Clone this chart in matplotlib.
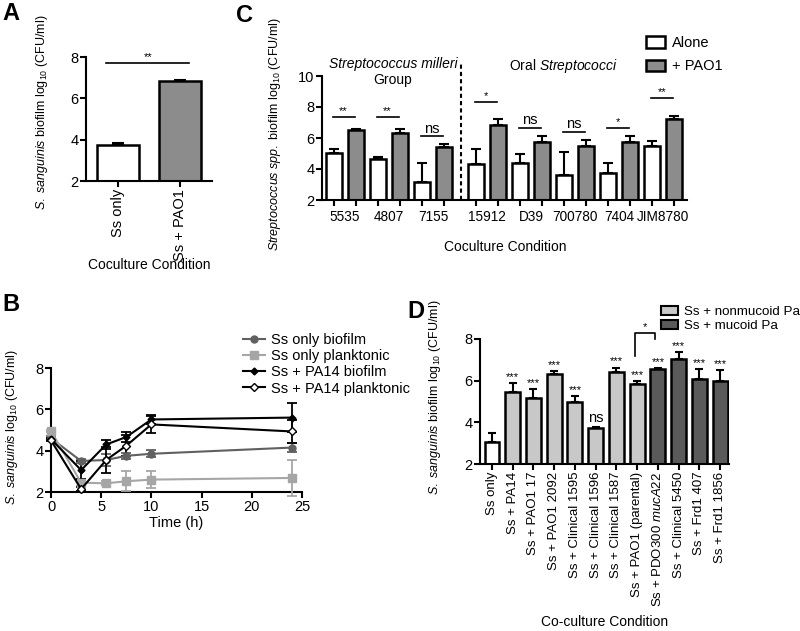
import matplotlib
matplotlib.use("Agg")
import matplotlib.pyplot as plt
import numpy as np
from matplotlib.patches import Patch
from matplotlib.lines import Line2D

plt.rcParams['font.family'] = ['Liberation Sans', 'DejaVu Sans']
plt.rcParams['mathtext.fontset'] = 'custom'
plt.rcParams['mathtext.rm'] = 'Liberation Sans'
plt.rcParams['mathtext.it'] = 'Liberation Sans:italic'
plt.rcParams['mathtext.bf'] = 'Liberation Sans:bold'

# ---------------- data ----------------
A_labels = ['Ss only', 'Ss + PAO1']
A_means = [3.72, 6.82]
A_err = [0.13, 0.08]

B_time = [0, 3, 5.5, 7.5, 10, 24]
B_ss_bio = [4.6, 3.5, 3.55, 3.75, 3.85, 4.15]
B_ss_bio_err = [0.1, 0.1, 0.3, 0.15, 0.17, 0.22]
B_ss_plank = [4.95, 2.45, 2.42, 2.52, 2.6, 2.68]
B_ss_plank_err = [0.05, 0.15, 0.1, 0.48, 0.42, 0.85]
B_pa_bio = [4.56, 3.06, 4.3, 4.66, 5.51, 5.6]
B_pa_bio_err = [0.05, 0.45, 0.2, 0.22, 0.2, 0.72]
B_pa_plank = [4.5, 2.14, 3.55, 4.24, 5.27, 4.93]
B_pa_plank_err = [0.05, 0.1, 0.65, 0.5, 0.4, 0.55]
B_names = ['Ss only biofilm', 'Ss only planktonic', 'Ss + PA14 biofilm', 'Ss + PA14 planktonic']

C_strains = ['5535', '4807', '7155', '15912', 'D39', '700780', '7404', 'JIM8780']
C_alone = [5.03, 4.63, 3.17, 4.32, 4.39, 3.6, 3.74, 5.48]
C_alone_err = [0.27, 0.12, 1.23, 0.98, 0.56, 1.5, 0.66, 0.32]
C_pao1 = [6.52, 6.3, 5.44, 6.84, 5.77, 5.5, 5.73, 7.23]
C_pao1_err = [0.04, 0.25, 0.16, 0.41, 0.33, 0.37, 0.37, 0.22]
C_sig = ['**', '**', 'ns', '*', 'ns', 'ns', '*', '**']
C_sig_y = [7.35, 7.35, 6.1, 8.3, 6.65, 6.4, 6.65, 8.6]

D_labels = ['Ss only', 'Ss + PA14', 'Ss + PAO1 17', 'Ss + PAO1 2092',
            'Ss + Clinical 1595', 'Ss + Clinical 1596', 'Ss + Clinical 1587',
            'Ss + PAO1 (parental)', r'Ss + PDO300 $\it{mucA22}$',
            'Ss + Clinical 5450', 'Ss + Frd1 407', 'Ss + Frd1 1856']
D_means = [3.06, 5.46, 5.17, 6.33, 4.98, 3.73, 6.41, 5.84, 6.57, 7.05, 6.09, 5.97]
D_err = [0.44, 0.42, 0.43, 0.14, 0.28, 0.05, 0.22, 0.16, 0.05, 0.32, 0.46, 0.53]
D_group = ['alone', 'non', 'non', 'non', 'non', 'non', 'non', 'non',
           'muc', 'muc', 'muc', 'muc']
D_sig = ['', '***', '***', '***', '***', 'ns', '***', '***', '***', '***', '***', '***']

# ---------------- layout helpers ----------------
W, H = 800, 631
fig = plt.figure(figsize=(8, 6.31), dpi=100)


def rect(l, r, t, b):
    return [l / W, 1 - b / H, (r - l) / W, (b - t) / H]


def fx(x):
    return x / W


def fy(y):
    return 1 - y / H


def style(ax):
    for s in ['top', 'right']:
        ax.spines[s].set_visible(False)
    for s in ['left', 'bottom']:
        ax.spines[s].set_linewidth(1.5)
    ax.tick_params(width=1.5, length=4, labelsize=10.5, pad=1.5)


LW = 1.8
GRAY = '#8c8c8c'
LIGHT = '#c8c8c8'
DARK = '#5a5a5a'

# ---------------- Panel A ----------------
axA = fig.add_axes(rect(86, 212, 57, 181))
style(axA)
xa = np.arange(len(A_labels))
axA.bar(xa, A_means, width=0.68, color=['white', GRAY], edgecolor='black', linewidth=LW, zorder=2)
axA.errorbar(xa, A_means, yerr=[np.zeros(2), A_err], fmt='none', ecolor='black',
             elinewidth=1.5, capsize=4, capthick=1.5, zorder=1)
axA.set_xlim(-0.52, 1.52)
axA.set_ylim(2, 8)
axA.set_yticks([2, 4, 6, 8])
axA.set_xticks(xa)
axA.set_xticklabels(A_labels, rotation=90)
axA.plot([-0.19, 1.15], [7.7, 7.7], color='black', lw=1.2, clip_on=False)
axA.text(0.48, 7.75, '**', ha='center', va='bottom', fontsize=8)
fig.text(fx(42), fy(112), r'$\it{S.\ sanguinis}$ biofilm log$_{10}$ (CFU/ml)',
         rotation=90, ha='center', va='center', fontsize=9)
fig.text(fx(149), fy(265), 'Coculture Condition', ha='center', va='center', fontsize=10)

# ---------------- Panel C ----------------
axC = fig.add_axes(rect(322, 687, 76, 200))
style(axC)
centers = np.array([0, 1, 2, 3.23, 4.23, 5.23, 6.23, 7.23])
off = 0.25
bw = 0.36
axC.bar(centers - off, C_alone, width=bw, color='white', edgecolor='black', linewidth=LW, zorder=2,
        label='Alone')
axC.bar(centers + off, C_pao1, width=bw, color=GRAY, edgecolor='black', linewidth=LW, zorder=2,
        label='+ PAO1')
axC.errorbar(centers - off, C_alone, yerr=[np.zeros(8), C_alone_err], fmt='none', ecolor='black',
             elinewidth=1.5, capsize=3.5, capthick=1.5, zorder=1)
axC.errorbar(centers + off, C_pao1, yerr=[np.zeros(8), C_pao1_err], fmt='none', ecolor='black',
             elinewidth=1.5, capsize=3.5, capthick=1.5, zorder=1)
axC.set_xlim(-0.52, 7.77)
axC.set_ylim(2, 10)
axC.set_yticks([2, 4, 6, 8, 10])
axC.set_xticks(np.concatenate([centers - off, centers + off]))
axC.set_xticklabels([])
axC.set_xticks(centers, minor=True)
axC.set_xticklabels(C_strains, minor=True)
axC.tick_params(axis='x', which='minor', length=0, pad=7, labelsize=9.8)
for c, s, y in zip(centers, C_sig, C_sig_y):
    axC.plot([c - 0.27, c + 0.22], [y, y], color='black', lw=1.2, clip_on=False)
    if s == 'ns':
        axC.text(c - 0.03, y + 0.05, s, ha='center', va='bottom', fontsize=10.5)
    else:
        axC.text(c - 0.03, y + 0.05, s, ha='center', va='bottom', fontsize=8)
axC.plot([2.64, 2.64], [2, 10.8], color='black', lw=1.5, ls=(0, (2, 1.5)), clip_on=False)
fig.text(fx(393), fy(64), 'Streptococcus milleri', style='italic', ha='center', va='center', fontsize=10)
fig.text(fx(393), fy(80), 'Group', ha='center', va='center', fontsize=10)
fig.text(fx(563), fy(66), r'Oral $\it{Streptococci}$', ha='center', va='center', fontsize=10)
axC.legend(loc='upper left', bbox_to_anchor=(fx(646), fy(36)), bbox_transform=fig.transFigure,
           frameon=False, fontsize=10.5, handlelength=1.3, handleheight=0.8, handletextpad=0.5,
           labelspacing=0.65, borderpad=0, borderaxespad=0)
fig.text(fx(275), fy(134), r'$\it{Streptococcus\ spp.}$ biofilm log$_{10}$ (CFU/ml)',
         rotation=90, ha='center', va='center', fontsize=9)
fig.text(fx(505), fy(247), 'Coculture Condition', ha='center', va='center', fontsize=10)

# ---------------- Panel B ----------------
axB = fig.add_axes(rect(51, 302, 368, 492))
style(axB)
series = [
    (B_ss_bio, B_ss_bio_err, '#606060', 'o', '#606060', 5),
    (B_ss_plank, B_ss_plank_err, '#a6a6a6', 's', '#a6a6a6', 5.5),
    (B_pa_bio, B_pa_bio_err, 'black', 'D', 'black', 3.5),
    (B_pa_plank, B_pa_plank_err, 'black', 'D', 'white', 4.5),
]
for (vals, err, col, mk, fc, ms), name in zip(series, B_names):
    axB.errorbar(B_time, vals, yerr=err, color=col, marker=mk, markerfacecolor=fc,
                 markeredgecolor=col, markersize=ms, lw=1.5, elinewidth=1.3, capsize=3.5,
                 capthick=1.3, clip_on=False, label=name, zorder=3)
axB.set_xlim(0, 25)
axB.set_ylim(2, 8)
axB.set_yticks([2, 4, 6, 8])
axB.set_xticks([0, 5, 10, 15, 20, 25])
handles = [Line2D([0], [0], color=c, marker=m, markerfacecolor=f, markeredgecolor=c, markersize=s, lw=1.5)
           for (_, _, c, m, f, s) in series]
axB.legend(handles, B_names, loc='upper left', bbox_to_anchor=(fx(243), fy(333)),
           bbox_transform=fig.transFigure, frameon=False, fontsize=10.5, handlelength=1.5,
           handletextpad=0.4, labelspacing=0.15, borderpad=0, borderaxespad=0)
fig.text(fx(12), fy(427), r'$\it{S.\ sanguinis}$ log$_{10}$ (CFU/ml)',
         rotation=90, ha='center', va='center', fontsize=9)
fig.text(fx(176), fy(523), 'Time (h)', ha='center', va='center', fontsize=10.5)

# ---------------- Panel D ----------------
axD = fig.add_axes(rect(480, 729, 339, 464))
style(axD)
xd = np.arange(len(D_labels))
cmap = {'alone': 'white', 'non': LIGHT, 'muc': DARK}
axD.bar(xd, D_means, width=0.72, color=[cmap[g] for g in D_group], edgecolor='black',
        linewidth=LW, zorder=2)
axD.errorbar(xd, D_means, yerr=[np.zeros(len(xd)), D_err], fmt='none', ecolor='black',
             elinewidth=1.5, capsize=3, capthick=1.5, zorder=1)
axD.set_xlim(-0.58, 11.43)
axD.set_ylim(2, 8)
axD.set_yticks([2, 4, 6, 8])
axD.set_xticks(xd)
axD.set_xticklabels(D_labels, rotation=90, fontsize=9.5)
for x, m, e, s in zip(xd, D_means, D_err, D_sig):
    if s == 'ns':
        axD.text(x, m + e + 0.1, s, ha='center', va='bottom', fontsize=10.5)
    elif s:
        axD.text(x, m + e + 0.05, s, ha='center', va='bottom', fontsize=8)
axD.plot([6.92, 6.92, 7.88, 7.88], [7.2, 8.3, 8.3, 8.0], color='black', lw=1.2, clip_on=False)
axD.text(7.4, 8.35, '*', ha='center', va='bottom', fontsize=8)
dh = [Patch(facecolor=LIGHT, edgecolor='black', linewidth=1.5),
      Patch(facecolor=DARK, edgecolor='black', linewidth=1.5)]
axD.legend(dh, ['Ss + nonmucoid Pa', 'Ss + mucoid Pa'], loc='upper left',
           bbox_to_anchor=(fx(661), fy(306)), bbox_transform=fig.transFigure, frameon=False,
           fontsize=9.6, handlelength=1.3, handleheight=0.7, handletextpad=0.45,
           labelspacing=0.1, borderpad=0, borderaxespad=0)
fig.text(fx(435), fy(397), r'$\it{S.\ sanguinis}$ biofilm log$_{10}$ (CFU/ml)',
         rotation=90, ha='center', va='center', fontsize=9)
fig.text(fx(605), fy(622), 'Co-culture Condition', ha='center', va='center', fontsize=10)

# ---------------- panel letters ----------------
for lab, x, y in [('A', 2, 2), ('C', 236, 4), ('B', 2, 293), ('D', 407, 300)]:
    fig.text(fx(x), fy(y), lab, fontsize=17, fontweight='bold', ha='left', va='top')

fig.savefig('out.png', dpi=100)
